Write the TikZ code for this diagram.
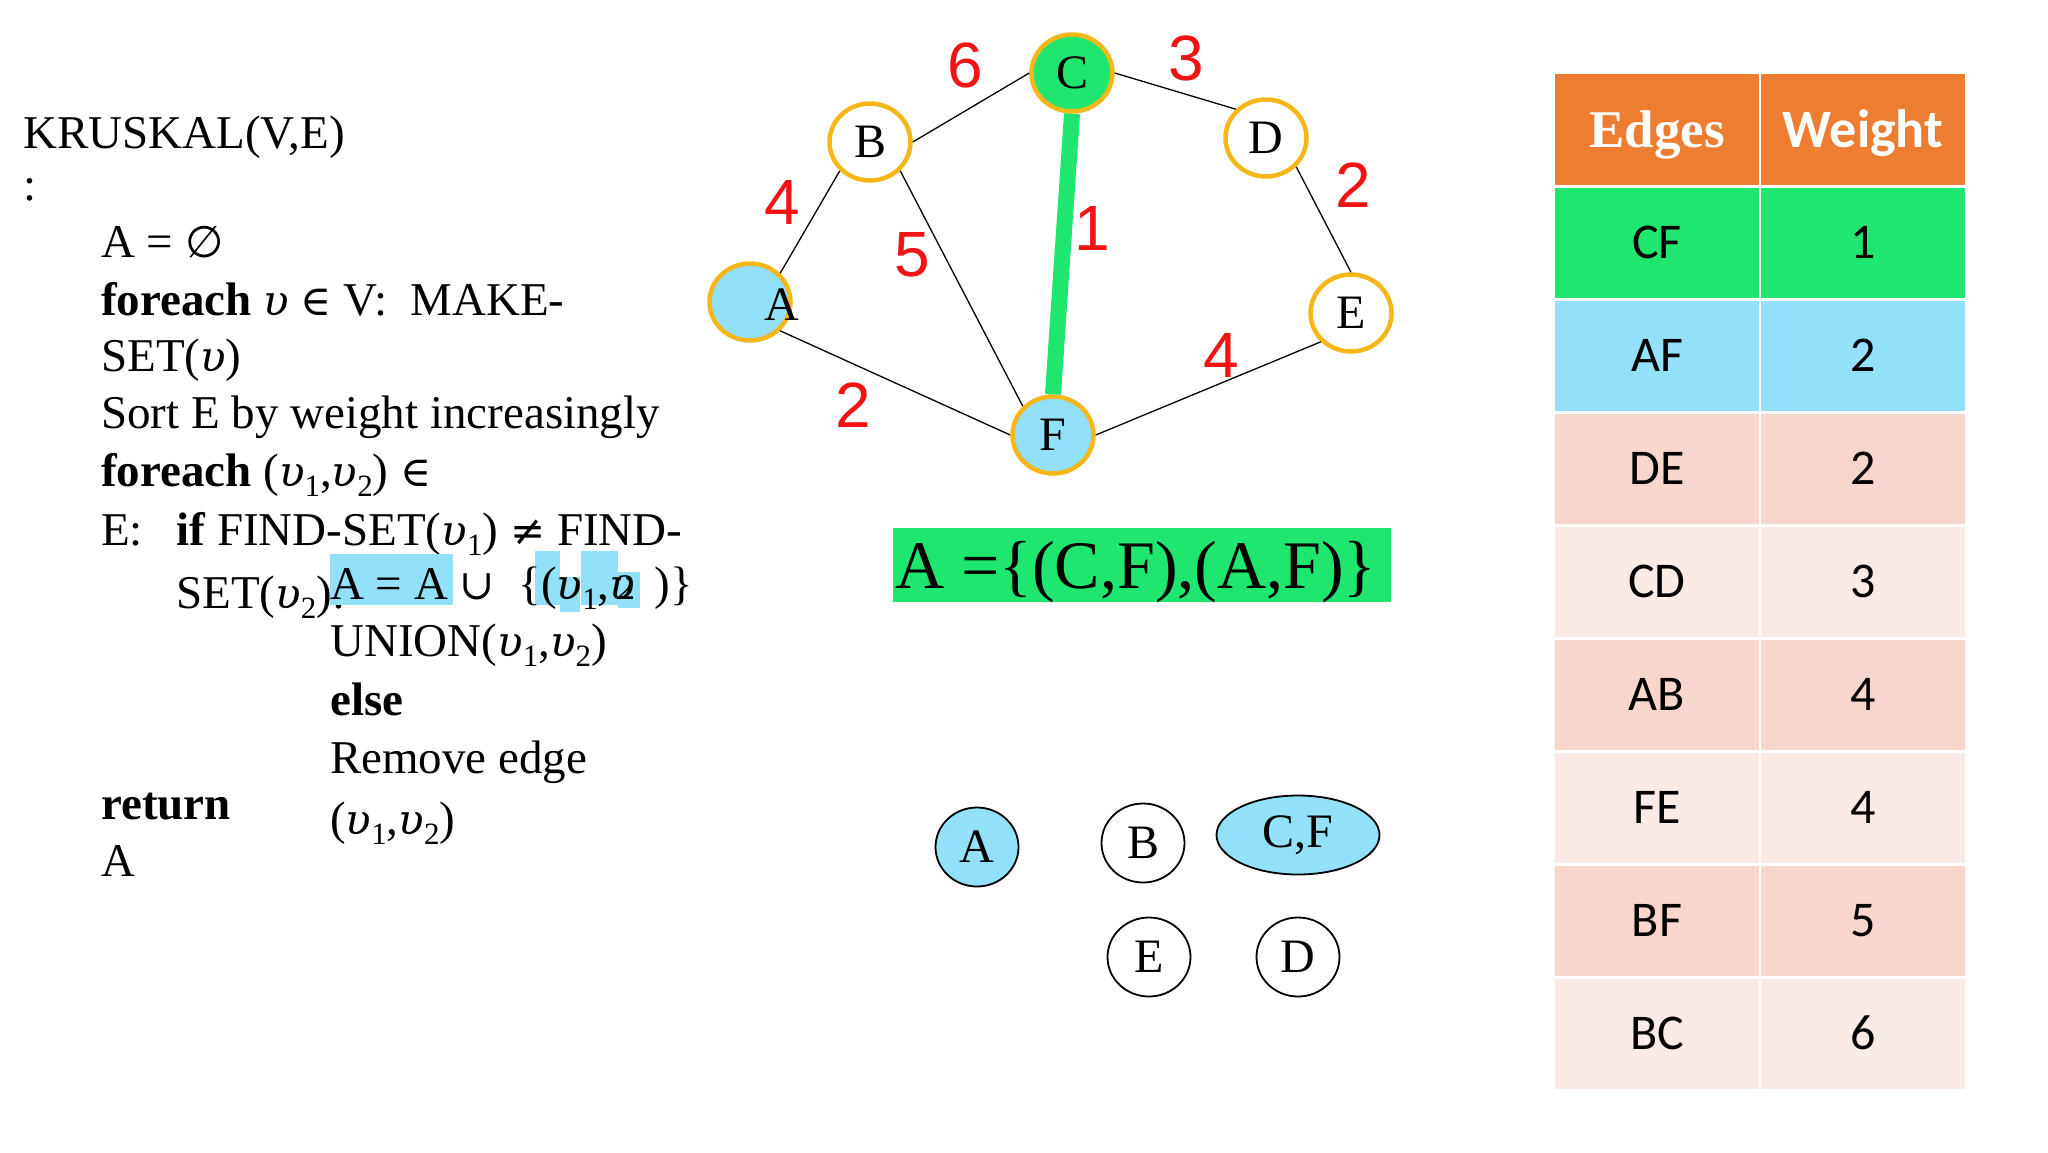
\documentclass[tikz,border=0pt]{standalone}
\usepackage{fontspec}
\setmainfont{Liberation Serif}
\newfontfamily\sansf{Liberation Sans}
\newfontfamily\carl{Carlito}
\newfontfamily\dvs{DejaVu Serif}
\newfontfamily\dvsans{DejaVu Sans}
\usetikzlibrary{shapes.geometric}
\definecolor{gold}{RGB}{247,183,24}
\definecolor{mstgreen}{RGB}{30,230,110}
\definecolor{lblue}{RGB}{146,224,250}
\definecolor{hdr}{RGB}{237,125,49}
\definecolor{pinkA}{RGB}{247,214,205}
\definecolor{pinkB}{RGB}{251,235,231}
\definecolor{wred}{RGB}{240,20,20}
\newcommand\upv{{\dvs\itshape\fontsize{42}{42}\selectfont υ}}
\newcommand\upvs[1]{\upv\raisebox{-0.22em}{\fontsize{31}{31}\selectfont #1}}
\newcommand\symb[1]{{\dvs\fontsize{42}{42}\selectfont #1}}
\tikzset{
  code/.style={anchor=base west, inner sep=0pt, font=\fontsize{47}{57}\selectfont},
  gnode/.style={ellipse, draw=gold, line width=4.5pt, minimum width=81pt, minimum height=77pt, inner sep=0pt, fill=white, font=\fontsize{48}{48}\selectfont},
  snode/.style={ellipse, draw=black, line width=1.8pt, minimum width=83pt, minimum height=79pt, inner sep=0pt, fill=white, font=\fontsize{48}{48}\selectfont},
  wlabel/.style={text=wred, inner sep=0pt, font=\sansf\fontsize{64}{64}\selectfont},
  gedge/.style={line width=1.3pt, black},
  cell/.style={inner sep=0pt, minimum width=204pt, minimum height=110pt, text height=32pt, text depth=0pt, font=\carl\fontsize{50}{50}\selectfont},
  hcell/.style={inner sep=0pt, minimum width=204pt, minimum height=111pt, text height=35pt, text depth=0pt, fill=hdr, text=white},
  hl/.style={fill=lblue, draw=none}
}
\begin{document}
\begin{tikzpicture}[x=1pt,y=-1pt]
\path[use as bounding box] (0,0) rectangle (2048,1152);

% ---------- pseudo-code ----------
\node[code] (l1) at (23,148) {KRUSKAL(V,E)};
\node[code] (l2) at (23,200) {:};
\node[code] (l3) at (101,257) {A = {\dvsans\fontsize{44}{44}\selectfont ∅}};
\node[code] (l4) at (101,315) {\textbf{foreach} \upv\ \symb{∈} V:\ \ MAKE-};
\node[code] (l5) at (101,371) {SET(\upv)};
\node[code] (l6) at (101,428) {Sort E by weight increasingly};
\node[code] (l7) at (101,486) {\textbf{foreach} (\upvs{1},\upvs{2}) \symb{∈}};
\node[code] (l8a) at (101,545) {E:};
\node[code] (l8) at (176,545) {\textbf{if} FIND-SET(\upvs{1}) \symb{≠} FIND-};
\node[code] (l9) at (176,608) {SET(\upvs{2}):};
% highlights
\fill[hl] (330,554) rectangle (453,605);
\fill[hl] (535,551) rectangle (560,605);
\fill[hl] (560,577) rectangle (580,612);
\fill[hl] (581,551) rectangle (618,605);
\fill[hl] (618,572) rectangle (640,608);
\node[code] (l10) at (330,599) {A = A \symb{∪}\ \ \{(\upvs{1},\upv\llap{\fontsize{36}{36}\selectfont 2}\ \,)\}};
\node[code] (l11) at (330,656) {UNION(\upvs{1},\upvs{2})};
\node[code] (l12) at (330,715) {\textbf{else}};
\node[code] (l13) at (330,773) {Remove edge};
\node[code] (l14) at (101,819) {\textbf{return}};
\node[code] (l15) at (330,834) {(\upvs{1},\upvs{2})};
\node[code] (l16) at (101,876) {A};

% ---------- graph ----------
\node[gnode, fill=mstgreen] (C) at (1072,73) {C};
\node[gnode] (B) at (870,142) {B};
\node[gnode] (D) at (1266,138) {D};
\node[gnode, fill=lblue] (A) at (750,302) {};
\node[gnode] (E) at (1351,313) {E};
\node[gnode, fill=lblue] (F) at (1053,435) {F};
\node[inner sep=0pt, font=\fontsize{48}{48}\selectfont] (Alab) at (782,305) {A};

\draw[gedge] (B.east) -- (C.west);
\draw[gedge] (C.east) -- (D.north west);
\draw[gedge] (A.north east) -- (B.south west);
\draw[gedge] (B.south east) -- (F.north west);
\draw[gedge] (D.south east) -- (E.north);
\draw[gedge] (A.south east) -- (F.west);
\draw[gedge] (F.east) -- (E.south west);
\draw[line width=16pt, mstgreen] (C.south) -- (F.north);

\node[wlabel] (w6) at (965,65) {6};
\node[wlabel] (w3) at (1186,58) {3};
\node[wlabel] (w4a) at (782,202) {4};
\node[wlabel] (w5) at (912,255) {5};
\node[wlabel] (w1) at (1092,228) {1};
\node[wlabel] (w2a) at (1353,185) {2};
\node[wlabel] (w2b) at (853,405) {2};
\node[wlabel] (w4b) at (1221,355) {4};

% ---------- result banner ----------
\fill[mstgreen] (893,528) rectangle (1391,602);
\node[code, font=\fontsize{68}{68}\selectfont] (res) at (895,588) {A =\{(C,F),(A,F)\}};

% ---------- disjoint sets ----------
\node[snode, fill=lblue] (sA) at (977,847) {A};
\node[snode] (sB) at (1143,843) {B};
\node[snode, fill=lblue, minimum width=163pt] (sCF) at (1298,835) {C,F};
\node[snode] (sE) at (1149,957) {E};
\node[snode] (sD) at (1298,957) {D};

% ---------- table ----------
\node[hcell, font=\bfseries\fontsize{53}{53}\selectfont] (h1) at (1657,129.5) {Edges};
\node[hcell, font=\carl\bfseries\fontsize{54}{54}\selectfont] (h2) at (1863,129.5) {Weight};
\foreach \e/\w/\c [count=\i] in {CF/1/mstgreen, AF/2/lblue, DE/2/pinkA, CD/3/pinkB, AB/4/pinkA, FE/4/pinkB, BF/5/pinkA, BC/6/pinkB}{
  \node[cell, fill=\c] (e\i) at (1657,{242.5+113*(\i-1)}) {\e};
  \node[cell, fill=\c] (v\i) at (1863,{242.5+113*(\i-1)}) {\w};
}
\end{tikzpicture}
\end{document}
